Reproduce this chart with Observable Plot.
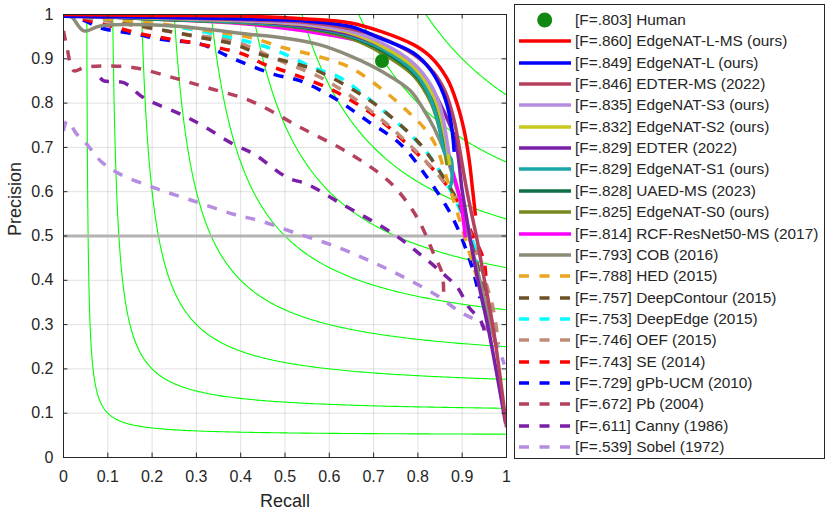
<!DOCTYPE html>
<html><head><meta charset="utf-8">
<script src="https://cdn.jsdelivr.net/npm/d3@7"></script>
<script src="https://cdn.jsdelivr.net/npm/@observablehq/plot@0.6"></script>
<style>
body{margin:0;background:#fff;}
#wrap{position:relative;width:831px;height:513px;font-family:"Liberation Sans",Arial,Helvetica,sans-serif;color:#262626;}
#legend{position:absolute;left:514px;top:4px;width:311px;height:455px;border:1px solid #262626;background:#fff;box-sizing:border-box;}
.row{position:absolute;left:0;height:22px;line-height:22px;font-size:15.4px;white-space:nowrap;}
.row svg{position:absolute;left:4px;top:0;}
.row span{position:absolute;left:60px;top:0;}
</style></head><body><div id="wrap"></div>
<script>
// ---- axis ticks ----
const tickValues = [0, 0.1, 0.2, 0.3, 0.4, 0.5, 0.6, 0.7, 0.8, 0.9, 1];
const tickLabels = ["0", "0.1", "0.2", "0.3", "0.4", "0.5", "0.6", "0.7", "0.8", "0.9", "1"];
const isoFValues = [0.1, 0.2, 0.3, 0.4, 0.5, 0.6, 0.7, 0.8, 0.9];
const referencePrecision = [0.5];

// ---- legend ----
const legendNames = ["Human", "EdgeNAT-L-MS (ours)", "EdgeNAT-L (ours)", "EDTER-MS (2022)", "EdgeNAT-S3 (ours)",
  "EdgeNAT-S2 (ours)", "EDTER (2022)", "EdgeNAT-S1 (ours)", "UAED-MS (2023)", "EdgeNAT-S0 (ours)",
  "RCF-ResNet50-MS (2017)", "COB (2016)", "HED (2015)", "DeepContour (2015)", "DeepEdge (2015)", "OEF (2015)",
  "SE (2014)", "gPb-UCM (2010)", "Pb (2004)", "Canny (1986)", "Sobel (1972)"];
const fScores = [".803", ".860", ".849", ".846", ".835", ".832", ".829", ".829", ".828", ".825", ".814", ".793",
  ".788", ".757", ".753", ".746", ".743", ".729", ".672", ".611", ".539"];

// ---- human point ----
const humanRecall = [0.719];
const humanPrecision = [0.895];

// ---- PR curves [recall, precision] ----
const edgenatLMS = [[0,1],[0.2,0.998],[0.42,0.996],[0.55,0.99],[0.648,0.981],[0.716,0.962],[0.79,0.932],[0.828,0.905],[0.866,0.855],[0.889,0.797],[0.904,0.74],[0.915,0.677],[0.924,0.6],[0.93,0.546]];
const edgenatL = [[0,0.996],[0.2,0.994],[0.42,0.99],[0.55,0.985],[0.648,0.973],[0.716,0.946],[0.79,0.913],[0.828,0.876],[0.858,0.82],[0.874,0.76],[0.882,0.69]];
const edterMS = [[0,1],[0.2,0.994],[0.42,0.988],[0.55,0.982],[0.648,0.968],[0.716,0.948],[0.79,0.91],[0.835,0.87],[0.862,0.825],[0.882,0.76],[0.896,0.685],[0.911,0.6],[0.934,0.489],[0.949,0.407],[0.971,0.286],[1,0.068]];
const edgenatS3 = [[0,1],[0.2,0.993],[0.42,0.986],[0.55,0.978],[0.648,0.962],[0.72,0.935],[0.79,0.89],[0.83,0.84],[0.851,0.79],[0.862,0.737],[0.87,0.685]];
const edgenatS2 = [[0,1],[0.2,0.992],[0.42,0.985],[0.55,0.976],[0.648,0.958],[0.72,0.928],[0.79,0.882],[0.83,0.828],[0.85,0.775],[0.862,0.72],[0.872,0.66]];
const edter = [[0,0.996],[0.2,0.992],[0.42,0.984],[0.55,0.973],[0.648,0.955],[0.72,0.928],[0.79,0.885],[0.83,0.835],[0.86,0.778],[0.885,0.715],[0.9,0.602],[0.919,0.489],[0.934,0.407],[0.96,0.286],[0.998,0.077]];
const edgenatS1 = [[0,1],[0.2,0.991],[0.42,0.982],[0.55,0.972],[0.648,0.952],[0.72,0.922],[0.79,0.872],[0.821,0.828],[0.845,0.76],[0.862,0.685],[0.874,0.676],[0.874,0.614],[0.869,0.61]];
const uaedMS = [[0,1],[0.2,0.99],[0.42,0.982],[0.55,0.97],[0.648,0.95],[0.72,0.918],[0.79,0.868],[0.83,0.81],[0.852,0.745],[0.868,0.68]];
const edgenatS0 = [[0,0.998],[0.2,0.99],[0.42,0.98],[0.55,0.968],[0.648,0.946],[0.72,0.912],[0.79,0.862],[0.83,0.8],[0.852,0.73],[0.866,0.66]];
const rcf = [[0,1],[0.2,0.99],[0.42,0.978],[0.55,0.962],[0.648,0.945],[0.723,0.922],[0.791,0.88],[0.828,0.835],[0.844,0.79],[0.858,0.737],[0.875,0.66],[0.896,0.58],[0.907,0.497]];
const cob = [[0,1],[0.016,0.997],[0.046,0.963],[0.083,0.974],[0.248,0.974],[0.422,0.955],[0.467,0.951],[0.573,0.933],[0.648,0.906],[0.723,0.869],[0.783,0.828],[0.813,0.785],[0.836,0.745],[0.862,0.685],[0.89,0.6],[0.915,0.5],[0.94,0.4],[0.964,0.3],[0.975,0.26]];
const hed = [[0,1],[0.1,0.99],[0.25,0.975],[0.35,0.96],[0.422,0.948],[0.497,0.925],[0.573,0.906],[0.648,0.88],[0.723,0.828],[0.776,0.782],[0.813,0.745],[0.84,0.705],[0.862,0.64],[0.89,0.55],[0.92,0.45],[0.95,0.35],[0.97,0.28]];
const deepContour = [[0,1],[0.06,0.997],[0.158,0.978],[0.309,0.948],[0.384,0.933],[0.445,0.91],[0.527,0.888],[0.573,0.873],[0.693,0.805],[0.798,0.715],[0.828,0.677],[0.851,0.643],[0.881,0.595],[0.896,0.564],[0.93,0.45],[0.955,0.35],[0.975,0.26]];
const deepEdge = [[0,1],[0.1,0.99],[0.219,0.978],[0.347,0.955],[0.437,0.933],[0.482,0.918],[0.564,0.88],[0.625,0.857],[0.686,0.812],[0.731,0.775],[0.79,0.722],[0.821,0.688],[0.851,0.643],[0.89,0.57],[0.926,0.482],[0.941,0.377],[0.95,0.33]];
const oef = [[0,1],[0.1,0.985],[0.279,0.955],[0.384,0.94],[0.49,0.895],[0.595,0.85],[0.731,0.752],[0.851,0.632],[0.889,0.58],[0.93,0.47],[0.955,0.39],[0.971,0.331],[0.982,0.255]];
const se = [[0,1],[0.03,0.993],[0.106,0.974],[0.181,0.955],[0.309,0.933],[0.407,0.91],[0.452,0.888],[0.497,0.873],[0.61,0.828],[0.708,0.767],[0.776,0.707],[0.844,0.64],[0.889,0.58],[0.92,0.51],[0.949,0.444],[0.956,0.347],[0.96,0.33]];
const gpbUcm = [[0,1],[0.05,0.985],[0.083,0.97],[0.166,0.955],[0.219,0.944],[0.309,0.933],[0.384,0.9],[0.475,0.865],[0.535,0.85],[0.61,0.812],[0.686,0.76],[0.761,0.707],[0.821,0.632],[0.866,0.564],[0.889,0.519],[0.919,0.44],[0.934,0.385],[0.94,0.36]];
const pb = [[0,0.963],[0.008,0.925],[0.023,0.873],[0.046,0.88],[0.091,0.884],[0.159,0.88],[0.249,0.857],[0.324,0.835],[0.422,0.805],[0.535,0.745],[0.648,0.685],[0.738,0.62],[0.798,0.542],[0.836,0.459],[0.855,0.414],[0.858,0.355]];
const canny = [[0.083,0.857],[0.091,0.85],[0.136,0.846],[0.181,0.812],[0.264,0.775],[0.309,0.752],[0.384,0.707],[0.43,0.685],[0.505,0.632],[0.55,0.617],[0.625,0.574],[0.746,0.504],[0.813,0.452],[0.858,0.414],[0.889,0.384],[0.915,0.339],[0.941,0.31],[0.955,0.27]];
const sobel = [[0,0.737],[0.008,0.76],[0.03,0.73],[0.053,0.707],[0.083,0.67],[0.121,0.643],[0.204,0.609],[0.294,0.579],[0.384,0.549],[0.445,0.534],[0.52,0.508],[0.61,0.478],[0.7,0.44],[0.776,0.403],[0.844,0.365],[0.896,0.328],[0.93,0.31],[0.96,0.285],[0.98,0.25],[0.995,0.21]];

const methodCurves = [edgenatLMS, edgenatL, edterMS, edgenatS3, edgenatS2, edter, edgenatS1, uaedMS, edgenatS0, rcf,
  cob, hed, deepContour, deepEdge, oef, se, gpbUcm, pb, canny, sobel];

// ---- styles (rows 1..20 of the legend) ----
const methodColors = ["#ff0000", "#0000ff", "#b4415e", "#b68ce0", "#c8c81e", "#7a1fa6", "#1aa6a6", "#0f6e46", "#76881e", "#ff00ff",
  "#8c8c78", "#eba41e", "#6e5028", "#00ffff", "#c08c78", "#ff0000", "#0000ff", "#b4415e", "#7a1fa6", "#b68ce0"];
const methodDashed = [false, false, false, false, false, false, false, false, false, false,
  false, true, true, true, true, true, true, true, true, true];
const humanColor = "#118811";
const DASH = "10,10";
const LW = 3.5;

// iso-F contour lines: P = F*R/(2R - F)
const isoData = isoFValues.flatMap(f => {
  const r0 = f / (2 - f);
  return d3.range(0, 301).map(i => {
    const r = r0 + (1 - r0) * Math.pow(i / 300, 3);
    return {f, r, p: f * r / (2 * r - f)};
  });
});

const curveMarks = [];
for (let i = methodCurves.length - 1; i >= 0; i--) {
  curveMarks.push(Plot.line(methodCurves[i], {
    x: d => d[0], y: d => d[1],
    stroke: methodColors[i], strokeWidth: LW,
    strokeDasharray: methodDashed[i] ? DASH : null,
    strokeLinecap: "butt", strokeLinejoin: "round",
    curve: "catmull-rom", clip: true
  }));
}

const chart = Plot.plot({
  width: 831, height: 513,
  marginLeft: 63, marginRight: 325, marginTop: 14, marginBottom: 56,
  x: {domain: [0, 1]},
  y: {domain: [0, 1]},
  style: {fontFamily: "'Liberation Sans', Arial, Helvetica, sans-serif", fontSize: "16px", color: "#262626", background: "white"},
  marks: [
    Plot.gridX(tickValues, {stroke: "#000", strokeOpacity: 0.12}),
    Plot.gridY(tickValues, {stroke: "#000", strokeOpacity: 0.12}),
    Plot.line(isoData, {x: "r", y: "p", z: "f", stroke: "#00ff00", strokeWidth: 1.1, clip: true}),
    Plot.ruleY(referencePrecision, {stroke: "#b3b3b3", strokeWidth: 3.2}),
    ...curveMarks,
    Plot.dot(humanRecall.map((r, i) => [r, humanPrecision[i]]), {x: d => d[0], y: d => d[1], r: 7, fill: humanColor, stroke: "none"}),
    Plot.frame({stroke: "#262626", strokeWidth: 1}),
    Plot.ruleX(tickValues, {x: d => d, y1: 0, y2: 0.01, stroke: "#262626"}),
    Plot.ruleX(tickValues, {x: d => d, y1: 0.99, y2: 1, stroke: "#262626"}),
    Plot.ruleY(tickValues, {y: d => d, x1: 0, x2: 0.01, stroke: "#262626"}),
    Plot.ruleY(tickValues, {y: d => d, x1: 0.99, x2: 1, stroke: "#262626"}),
    Plot.axisX(tickValues, {tickSize: 0, tickPadding: 13, tickFormat: (d, i) => tickLabels[i], label: null, fontSize: 16, fill: "#262626"}),
    Plot.axisY(tickValues, {tickSize: 0, tickPadding: 10, tickFormat: (d, i) => tickLabels[i], label: null, fontSize: 16, fill: "#262626"}),
    Plot.text(["Recall"], {text: d => d, frameAnchor: "bottom", dy: 49, fontSize: 18, fill: "#262626"}),
    Plot.text(["Precision"], {text: d => d, frameAnchor: "left", rotate: -90, dx: -48, fontSize: 18, fill: "#262626"})
  ]
});

const wrap = document.getElementById("wrap");
chart.style.position = "absolute";
chart.style.left = "0px";
chart.style.top = "0px";
wrap.appendChild(chart);

// legend
const legend = d3.select(wrap).append("div").attr("id", "legend");
legendNames.forEach((name, i) => {
  const cy = 15 + i * 21.35;
  const row = legend.append("div").attr("class", "row").style("top", (cy - 11) + "px").style("width", "300px");
  const svg = row.append("svg").attr("width", 54).attr("height", 22);
  if (i === 0) {
    svg.append("circle").attr("cx", 25.7).attr("cy", 11).attr("r", 7.5).attr("fill", humanColor);
  } else {
    svg.append("line").attr("x1", 0).attr("x2", 52).attr("y1", 11).attr("y2", 11)
      .attr("stroke", methodColors[i - 1]).attr("stroke-width", LW)
      .attr("stroke-dasharray", methodDashed[i - 1] ? "10,10.5" : null);
  }
  row.append("span").text(`[F=${fScores[i]}] ${name}`);
});
</script></body></html>
